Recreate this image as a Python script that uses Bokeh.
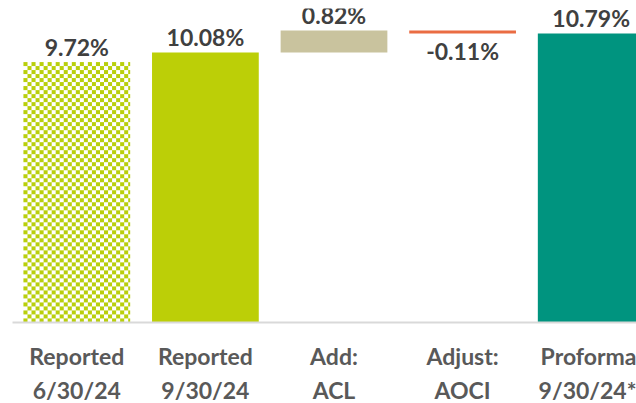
import numpy as np
from bokeh.plotting import figure
from bokeh.models import Range1d, LinearAxis, FixedTicker
from bokeh.core.properties import value
from bokeh.embed import file_html
from bokeh.resources import INLINE

# ---- data ----
cat_line1 = ["Reported", "Reported", "Add:", "Adjust:", "Proforma"]
cat_line2 = ["6/30/24", "9/30/24", "ACL", "AOCI", "9/30/24*"]
bar_bottom = [0.0, 0.0, 10.08, 10.79, 0.0]
bar_top = [9.72, 10.08, 10.90, 10.90, 10.79]
labels = ["9.72%", "10.08%", "0.82%", "-0.11%", "10.79%"]
colors = ["#b9cf0c", "#bccf07", "#c9c39e", "#ea6c43", "#00947f"]

xs = [i + 0.5 for i in range(len(labels))]
BAR_W = 0.83
FONT = "Lato"
FRAME_W, FRAME_H = 624, 314
X_END, Y_END = 624 / 128.6, 11.72

p = figure(frame_width=FRAME_W, frame_height=FRAME_H,
           x_range=Range1d(0, X_END), y_range=Range1d(0, Y_END),
           min_border_left=12, min_border_right=0, min_border_top=8, min_border_bottom=0,
           x_axis_location=None, y_axis_location=None,
           output_backend="svg", toolbar_location=None)
p.grid.visible = False
p.outline_line_color = None
p.background_fill_color = "white"
p.border_fill_color = "white"

# checkered first bar: texture image placed over the bar's data extent
px_w = int(round(BAR_W * FRAME_W / X_END))
px_h = int(round((bar_top[0] - bar_bottom[0]) * FRAME_H / Y_END))
cell = 4
yy, xx = np.mgrid[0:px_h, 0:px_w]
mask = ((yy // cell) + (xx // cell)) % 2 == 0
rgba = np.zeros((px_h, px_w, 4), dtype=np.uint8)
c = colors[0].lstrip("#")
rgb = [int(c[i:i + 2], 16) for i in (0, 2, 4)]
rgba[..., :3] = 255
rgba[mask, 0], rgba[mask, 1], rgba[mask, 2] = rgb
rgba[..., 3] = 255
img = rgba.view(dtype=np.uint32).reshape((px_h, px_w))
p.image_rgba(image=[img], x=[xs[0] - BAR_W / 2], y=[bar_bottom[0]],
             dw=[BAR_W], dh=[bar_top[0] - bar_bottom[0]])

# other bars
p.vbar(x=xs[1:], bottom=bar_bottom[1:], top=bar_top[1:], width=BAR_W,
       fill_color=colors[1:], line_color=None)

# value labels
above_idx = [0, 1, 2, 4]
p.text(x=[xs[i] for i in above_idx], y=[bar_top[i] for i in above_idx],
       text=[labels[i] for i in above_idx], y_offset=-15,
       text_align="center", text_baseline="alphabetic",
       text_font=value(FONT), text_font_style="bold", text_font_size="23px",
       text_color="#404040")
p.text(x=[xs[3]], y=[bar_bottom[3]], text=[labels[3]], y_offset=18,
       text_align="center", text_baseline="alphabetic",
       text_font=value(FONT), text_font_style="bold", text_font_size="23px",
       text_color="#404040")

# category axes (two lines)
ax1 = LinearAxis(ticker=FixedTicker(ticks=xs),
                 major_label_overrides={x: t for x, t in zip(xs, cat_line1)})
ax2 = LinearAxis(ticker=FixedTicker(ticks=xs),
                 major_label_overrides={x: t for x, t in zip(xs, cat_line2)})
for ax in (ax1, ax2):
    ax.major_tick_line_color = None
    ax.minor_tick_line_color = None
    ax.major_tick_out = 0
    ax.major_tick_in = 0
    ax.major_label_text_font = FONT
    ax.major_label_text_font_style = "bold"
    ax.major_label_text_font_size = "23px"
    ax.major_label_text_color = "#595959"
ax1.axis_line_color = "#d9d9d9"
ax1.axis_line_width = 2
ax1.major_label_standoff = 19
ax2.axis_line_color = None
ax2.major_label_standoff = 3
p.add_layout(ax1, "below")
p.add_layout(ax2, "below")

open("out.html", "w").write(file_html(p, INLINE))
